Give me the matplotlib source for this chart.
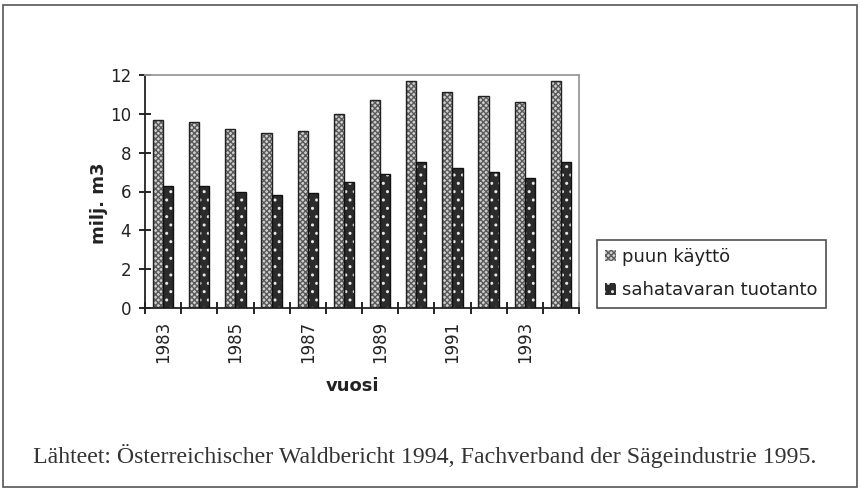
import matplotlib
matplotlib.use("Agg")
import matplotlib.pyplot as plt
import numpy as np
from matplotlib.patches import Rectangle

years = [1983, 1984, 1985, 1986, 1987, 1988, 1989, 1990, 1991, 1992, 1993, 1994]
puun_kaytto = [9.7, 9.6, 9.2, 9.0, 9.1, 10.0, 10.7, 11.7, 11.1, 10.9, 10.6, 11.7]
sahatavara = [6.3, 6.3, 6.0, 5.8, 5.9, 6.5, 6.9, 7.5, 7.2, 7.0, 6.7, 7.5]
series_names = ["puun käyttö", "sahatavaran tuotanto"]
yticks = [0, 2, 4, 6, 8, 10, 12]
tick_labels = [str(y) if i % 2 == 0 else "" for i, y in enumerate(years)]

plt.rcParams['font.family'] = ['DejaVu Sans']
plt.rcParams['hatch.linewidth'] = 1.0

fig = plt.figure(figsize=(8.61, 4.91), dpi=100)
W, H = 861, 491
# outer frame
fig.patches.append(Rectangle((3 / W, 4 / H), 854 / W, 482 / H, transform=fig.transFigure,
                             fill=False, edgecolor='#555555', linewidth=1.2))

ax = fig.add_axes([145 / W, 1 - 308 / H, (579 - 145) / W, (308 - 75) / H])
x = np.arange(len(years))
bw = 0.28
light_fc, light_hc = '#cfcfcf', '#5a5a5a'
dark_fc, dark_hc = '#2b2b2b', '#e8e8e8'
# light checkered bars
ax.bar(x - bw / 2, puun_kaytto, bw, facecolor=light_fc, edgecolor=light_hc,
       hatch='xxxxxx', linewidth=0, zorder=2)
ax.bar(x - bw / 2, puun_kaytto, bw, fill=False, edgecolor='#222222', linewidth=1.0, zorder=3)
# dark dotted bars
ax.bar(x + bw / 2, sahatavara, bw, facecolor=dark_fc, edgecolor=dark_hc,
       hatch='..', linewidth=0, zorder=2)
ax.bar(x + bw / 2, sahatavara, bw, fill=False, edgecolor='#111111', linewidth=1.0, zorder=3)

ax.set_xlim(-0.5, len(years) - 0.5)
ax.set_ylim(0, 12)
ax.set_yticks(yticks)
ax.set_yticklabels([str(t) for t in yticks], fontsize=12, color='#222222')
ax.set_xticks(np.arange(len(years) + 1) - 0.5)
ax.set_xticklabels([])
ax.set_xticks(x, minor=True)
ax.set_xticklabels(tick_labels, minor=True, rotation=90, fontsize=12, color='#222222')
ax.tick_params(axis='x', which='minor', length=0, pad=9)
ax.tick_params(axis='x', which='major', direction='inout', length=8, width=1.2)
ax.tick_params(axis='y', direction='inout', length=8, width=1.2, pad=6)
for s in ['left', 'bottom']:
    ax.spines[s].set_linewidth(1.3)
    ax.spines[s].set_color('#222222')
for s in ['top', 'right']:
    ax.spines[s].set_linewidth(1.3)
    ax.spines[s].set_color('#9a9a9a')

ax.set_ylabel("milj. m3", fontsize=13, fontweight='bold', color='#222222')
ax.yaxis.set_label_coords(-0.085, 0.45)
ax.set_xlabel("vuosi", fontsize=13, fontweight='bold', color='#222222')
ax.xaxis.set_label_coords(0.477, -0.295)

# legend
h1 = Rectangle((0, 0), 1, 1, facecolor=light_fc, edgecolor=light_hc, hatch='xxxxxx', linewidth=0)
h2 = Rectangle((0, 0), 1, 1, facecolor=dark_fc, edgecolor=dark_hc, hatch='..', linewidth=0)
leg = fig.legend([h1, h2], series_names, loc='upper left',
                 bbox_to_anchor=(597 / W, 1 - 240 / H), fontsize=13, frameon=True,
                 fancybox=False, handlelength=0.6, handleheight=0.6, handletextpad=0.35,
                 borderpad=0.45, labelspacing=0.85, borderaxespad=0)
leg.get_frame().set_edgecolor('#222222')
leg.get_frame().set_linewidth(1.2)
for t in leg.get_texts():
    t.set_color('#222222')

fig.text(33 / W, 1 - 456 / H,
         "Lähteet: Österreichischer Waldbericht 1994, Fachverband der Sägeindustrie 1995.",
         fontsize=17.2, family=['Liberation Serif', 'DejaVu Serif'], color='#333333', va='center')

fig.savefig("out.png", dpi=100)
